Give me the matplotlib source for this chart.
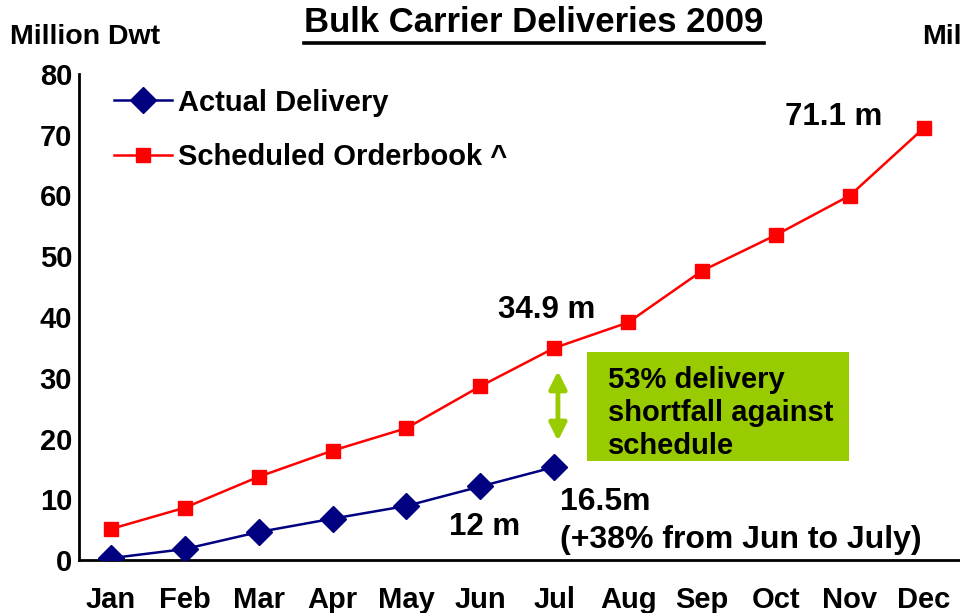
import matplotlib
matplotlib.use('Agg')
import matplotlib.pyplot as plt
from matplotlib.lines import Line2D
from matplotlib.patches import Rectangle

plt.rcParams['font.family'] = ['Liberation Sans', 'DejaVu Sans']
plt.rcParams['font.weight'] = 'bold'

# Data (million dwt, cumulative)
months = ['Jan', 'Feb', 'Mar', 'Apr', 'May', 'Jun', 'Jul', 'Aug', 'Sep', 'Oct', 'Nov', 'Dec']
actual_months = months[:7]
actual = [0.3, 1.8, 4.6, 6.8, 8.9, 12.1, 15.3]
scheduled = [5.1, 8.6, 13.7, 18.0, 21.7, 28.6, 34.9, 39.1, 47.6, 53.5, 60.0, 71.1]

W, H = 960, 613
fig = plt.figure(figsize=(W / 100, H / 100), dpi=100)
ax = fig.add_axes([79 / W, 53 / H, 1.0 - 79 / W, 486 / H])

x_all = list(range(len(months)))
x_act = list(range(len(actual_months)))

ax.plot(x_act, actual, color='#000080', lw=1.8, marker='D', markersize=13,
        label='Actual Delivery', zorder=4)
ax.plot(x_all, scheduled, color='#FF0000', lw=1.8, marker='s', markersize=10,
        label='Scheduled Orderbook ^', zorder=3)

ax.set_xlim(-0.43, 11.49)
ax.set_ylim(0, 80)
ax.set_yticks(range(0, 81, 10))
ax.set_xticks(x_all)
ax.set_xticklabels(months)
ax.tick_params(axis='y', length=0, pad=5, labelsize=21)
ax.tick_params(axis='x', length=0, pad=19, labelsize=21)
for lab in ax.get_xticklabels() + ax.get_yticklabels():
    lab.set_fontweight('bold')
for s in ['top', 'right']:
    ax.spines[s].set_visible(False)
for s in ['left', 'bottom']:
    ax.spines[s].set_linewidth(2)

leg = ax.legend(loc='upper left', bbox_to_anchor=(22 / W, 1.0), bbox_transform=ax.transAxes,
                frameon=False, fontsize=21, handlelength=2.0, handletextpad=0.2,
                labelspacing=0.9, borderaxespad=0.2, borderpad=0.3)
for t in leg.get_texts():
    t.set_fontweight('bold')

# value labels
ax.text(9.78, 72.9, '71.1 m', fontsize=22.5, fontweight='bold', ha='center', va='center')
ax.text(5.9, 41.2, '34.9 m', fontsize=22.5, fontweight='bold', ha='center', va='center')
ax.text(5.06, 5.4, '12 m', fontsize=22.5, fontweight='bold', ha='center', va='center')
ax.text(6.08, 9.5, '16.5m', fontsize=23, fontweight='bold', ha='left', va='center')
ax.text(6.08, 3.3, '(+38% from Jun to July)', fontsize=23, fontweight='bold',
        ha='left', va='center')

# shortfall box and arrow
green = '#99CC00'
ax.add_patch(Rectangle((6.45, 16.3), 3.54, 17.9, facecolor=green, edgecolor='none', zorder=2))
ax.text(6.73, 31.9, '53% delivery\nshortfall against\nschedule', fontsize=21,
        fontweight='bold', ha='left', va='top', linespacing=1.22, zorder=5)
ax.annotate('', xy=(6.05, 19.6), xytext=(6.05, 31.1),
            arrowprops=dict(arrowstyle='<|-|>', color=green, lw=3.5, mutation_scale=26,
                            shrinkA=0, shrinkB=0))

# titles
title = fig.text(534 / W, 1 - 22 / H, 'Bulk Carrier Deliveries 2009', fontsize=25,
                 fontweight='bold', ha='center', va='center')
fig.text(10 / W, 1 - 37 / H, 'Million Dwt', fontsize=20.5, fontweight='bold',
         ha='left', va='center')
fig.text(922 / W, 1 - 37 / H, 'Mil', fontsize=20.5, fontweight='bold',
         ha='left', va='center')

fig.canvas.draw()
bb = title.get_window_extent()
y_ul = bb.y0 - 4
fig.add_artist(Line2D([bb.x0 / W, bb.x1 / W], [y_ul / H, y_ul / H],
                      transform=fig.transFigure, color='black', lw=2.6))

fig.savefig('out.png', dpi=100)
